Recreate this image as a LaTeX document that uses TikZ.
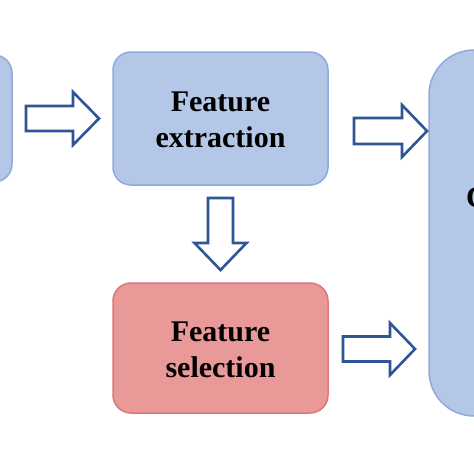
\documentclass[tikz,border=0pt]{standalone}
\usepackage{fontspec}
\setmainfont{Liberation Serif}
\definecolor{boxblue}{RGB}{180,199,231}
\definecolor{lineblue}{RGB}{143,170,220}
\definecolor{boxpink}{RGB}{234,153,153}
\definecolor{linepink}{RGB}{222,118,118}
\definecolor{arrowblue}{RGB}{47,85,151}
\tikzset{
  bluebox/.style={draw=lineblue, fill=boxblue, line width=1.5pt, rounded corners=18pt, inner sep=0pt},
  pinkbox/.style={draw=linepink, fill=boxpink, line width=1.5pt, rounded corners=18pt, inner sep=0pt},
  boxtext/.style={font=\fontsize{30}{36}\selectfont\bfseries, align=center},
  arrowline/.style={draw=arrowblue, fill=white, line width=2.6pt, line join=miter},
}
\begin{document}
\begin{tikzpicture}[x=1pt,y=-1pt]
\useasboundingbox (0,0) rectangle (474,474);
\clip (0,0) rectangle (474,474);
\fill[white] (0,0) rectangle (474,474);
% left box (cut off)
\node[bluebox, minimum width=80pt, minimum height=127pt] (input) at (-28,118.5) {};
% feature extraction
\node[bluebox, minimum width=215pt, minimum height=133pt] (extract) at (220.5,118.5) {};
\node[boxtext] (extractlabel) at (220.5,120) {Feature\\extraction};
% feature selection
\node[pinkbox, minimum width=215pt, minimum height=130pt] (select) at (220.5,348) {};
\node[boxtext] (selectlabel) at (220.5,350) {Feature\\selection};
% right box (cut off)
\node[bluebox, rounded corners=45pt, minimum width=100pt, minimum height=366pt] (output) at (479,233) {};
\node[boxtext, anchor=base west, inner sep=0pt] (outtext) at (466,207) {C};
% block arrows
\draw[arrowline] (26,106) -- (73,106) -- (73,92) -- (99,118.5) -- (73,145) -- (73,131) -- (26,131) -- cycle;
\draw[arrowline] (208,198) -- (233,198) -- (233,243) -- (246.5,243) -- (220.5,270) -- (194.5,243) -- (208,243) -- cycle;
\draw[arrowline] (354,118) -- (402,118) -- (402,105) -- (427,131) -- (402,157) -- (402,144) -- (354,144) -- cycle;
\draw[arrowline] (343,336.5) -- (390,336.5) -- (390,323) -- (415,349) -- (390,375) -- (390,361.5) -- (343,361.5) -- cycle;
\end{tikzpicture}
\end{document}
